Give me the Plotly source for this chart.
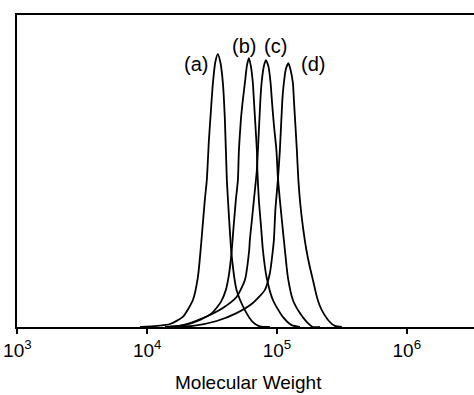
import plotly.graph_objects as go

# Molecular weight (g/mol) and normalized detector response for each GPC trace
mw_a = [8790, 11900, 15000, 18800, 22500, 24600, 25800, 26400, 27800, 28800, 29900, 31000,
        32100, 33500, 35000, 36600, 38300, 39700, 41100, 42600, 44700, 48800, 56600, 65200,
        73800, 88200]
h_a = [0, 0.004, 0.011, 0.037, 0.099, 0.183, 0.282, 0.337, 0.465, 0.538, 0.685, 0.795,
       0.894, 0.971, 1.000, 0.971, 0.894, 0.758, 0.538, 0.410, 0.264, 0.136, 0.062, 0.018,
       0.002, 0]

mw_b = [15000, 19500, 25500, 31500, 37000, 40400, 42600, 44500, 46100, 48200, 50000, 50900,
        52700, 54600, 56600, 58600, 60700, 62900, 65200, 66400, 68200, 70000, 70600, 72500,
        75200, 77900, 83100, 93000, 111000, 129600, 150100]
h_b = [0, 0.007, 0.026, 0.051, 0.092, 0.136, 0.190, 0.264, 0.355, 0.465, 0.538, 0.648,
       0.758, 0.832, 0.894, 0.956, 0.985, 0.956, 0.894, 0.832, 0.740, 0.648, 0.575, 0.465,
       0.374, 0.282, 0.183, 0.099, 0.037, 0.007, 0]

mw_c = [13700, 18800, 26900, 38300, 48800, 56600, 61100, 61800, 64100, 66400, 70000, 71300,
        73200, 74500, 76100, 79300, 82100, 85800, 89300, 91300, 94700, 99000, 101600, 105300,
        111000, 115100, 121300, 132600, 150100, 170000, 189100, 214100]
h_c = [0, 0.007, 0.033, 0.070, 0.110, 0.172, 0.282, 0.319, 0.392, 0.465, 0.575, 0.648,
       0.758, 0.832, 0.894, 0.956, 0.978, 0.956, 0.894, 0.832, 0.740, 0.648, 0.549, 0.465,
       0.355, 0.282, 0.183, 0.099, 0.051, 0.018, 0, 0]

mw_d = [15000, 22500, 34300, 48800, 65200, 80700, 88200, 93000, 94700, 97200, 101600, 105300,
        110000, 113000, 117100, 122400, 126800, 132600, 135000, 142300, 146200, 151500, 159700,
        168500, 177700, 190800, 203000, 214100, 229800, 251200, 279300, 316200]
h_d = [0, 0.004, 0.022, 0.051, 0.088, 0.136, 0.198, 0.282, 0.319, 0.429, 0.538, 0.648,
       0.832, 0.894, 0.945, 0.967, 0.945, 0.894, 0.832, 0.648, 0.538, 0.447, 0.355,
       0.282, 0.227, 0.165, 0.110, 0.077, 0.048, 0.022, 0.004, 0]

series_labels = ["(a)", "(b)", "(c)", "(d)"]
tick_vals = [1e3, 1e4, 1e5, 1e6]
tick_text = ["10<sup>3</sup>", "10<sup>4</sup>", "10<sup>5</sup>", "10<sup>6</sup>"]
x_title = "Molecular Weight"

FONT = "Liberation Sans, Arial, Helvetica, sans-serif"

fig = go.Figure()
for mw, h, name in zip([mw_a, mw_b, mw_c, mw_d], [h_a, h_b, h_c, h_d], series_labels):
    fig.add_trace(go.Scatter(x=mw, y=h, mode="lines", name=name,
                             line=dict(color="black", width=1.8, shape="spline", smoothing=0.6),
                             showlegend=False, hoverinfo="skip"))

# label positions (log10 MW, height)
label_pos = [(4.375, 0.963), (4.745, 1.029), (4.992, 1.029), (5.277, 0.963)]
for (lx, ly), txt in zip(label_pos, series_labels):
    fig.add_annotation(x=lx, y=ly, xref="x", yref="y", text=txt, showarrow=False,
                       font=dict(family=FONT, size=20, color="black"),
                       xanchor="center", yanchor="middle")

fig.add_annotation(x=0.5066, y=-0.178, xref="paper", yref="paper", text=x_title,
                   showarrow=False, font=dict(family=FONT, size=19, color="black"),
                   xanchor="center", yanchor="middle")

fig.update_layout(
    width=474, height=395,
    margin=dict(l=17, r=0, t=15, b=68),
    paper_bgcolor="white", plot_bgcolor="white",
    font=dict(family=FONT, color="black"),
    xaxis=dict(type="log", range=[2.997, 6.518], tickvals=tick_vals, ticktext=tick_text,
               showgrid=False, zeroline=False, showline=True, linecolor="black",
               linewidth=2, mirror=True, ticks="outside", ticklen=5, tickwidth=1.5,
               tickcolor="black", tickfont=dict(family=FONT, size=19, color="black")),
    yaxis=dict(range=[0, 1.143], showgrid=False, zeroline=False, showline=True,
               linecolor="black", linewidth=2, showticklabels=False, ticks=""),
)

fig.write_html("out.html", config={"displayModeBar": False},
               post_script="document.body.style.margin='0';document.body.style.overflow='hidden';")
